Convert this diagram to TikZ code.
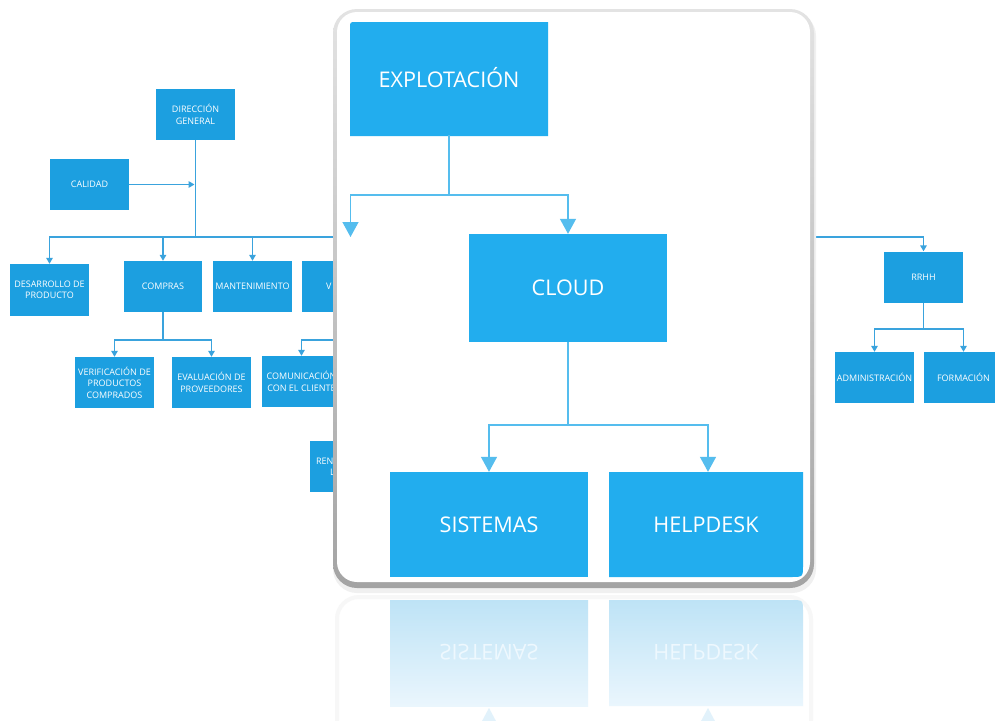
\documentclass[tikz,border=0pt]{standalone}
\usepackage{fontspec}
\usepackage{graphicx}
\setmainfont{Open Sans}
\usetikzlibrary{arrows.meta}

\definecolor{chartblue}{HTML}{1C9FE0}
\definecolor{lensblue}{HTML}{22ADEE}
\definecolor{wireblue}{HTML}{3AA3DD}
\definecolor{lenswireblue}{HTML}{55BDEE}
\definecolor{mirrortop}{HTML}{BEE3F6}
\definecolor{mirrorbot}{HTML}{EAF6FD}
\definecolor{mirrortext}{HTML}{EEF8FE}
\definecolor{mirrortip}{HTML}{E2F2FB}

\begin{document}
\begin{tikzpicture}[x=1pt,y=-1pt,
  chartbox/.style={fill=chartblue, text=white, font=\fontsize{9}{11.4}\selectfont,
    align=center, inner sep=0pt, minimum width=79pt, minimum height=51pt},
  lensbox/.style={text=white, font=\fontsize{21.6}{25}\selectfont, inner sep=0pt},
  wire/.style={draw=wireblue, line width=1.6pt},
  tip/.style={-{Triangle[length=6pt,width=6.5pt]}},
  lenswire/.style={draw=lenswireblue, line width=1.3pt},
  bigtip/.style={-{Triangle[length=15pt,width=16pt]}},
]
\useasboundingbox (0,0) rectangle (995,720);
\clip (0,0) rectangle (995,720);
\fill[white] (0,0) rectangle (995,720);

% ---------- organisation chart ----------
\node[chartbox] (dg)   at (195.5,114.5) {DIRECCIÓN\\GENERAL};
\node[chartbox] (cal)  at (89.5,184.5)  {CALIDAD};
\node[chartbox, minimum height=52pt] (des) at (49.5,290) {DESARROLLO DE\\PRODUCTO};
\node[chartbox, minimum width=78pt] (com) at (163,286.5) {COMPRAS};
\node[chartbox] (man)  at (252.5,286.5) {MANTENIMIENTO};
\node[chartbox, align=left, text width=31pt, inner xsep=24pt] (ven) at (341.5,286.5) {V};
\node[chartbox] (ver)  at (114.5,382.5) {VERIFICACIÓN DE\\PRODUCTOS\\COMPRADOS};
\node[chartbox] (eva)  at (211.5,382.5) {EVALUACIÓN DE\\PROVEEDORES};
\node[chartbox] (cli)  at (301.5,381.5) {COMUNICACIÓN\\CON EL CLIENTE};
\node[chartbox, align=left, text width=67pt, inner xsep=6pt] (ren) at (349.5,466.5) {REN\\\hspace*{14pt}L};
\node[chartbox] (rrhh) at (923.5,277)   {RRHH};
\node[chartbox] (adm)  at (874.5,377.5) {ADMINISTRACIÓN};
\node[chartbox] (for)  at (963.5,377.5) {FORMACIÓN};

\coordinate (dj) at (195.5,237);
\coordinate (cj) at (163,340);
\coordinate (vj) at (341.5,340);
\coordinate (rj) at (923.5,329);

\draw[wire] (dg.south) -- (dj);
\draw[wire,tip,shorten >=1pt] (cal.east) -- (dj |- cal.east);
\draw[wire,tip] (dj) -| (des.north);
\draw[wire,tip] (dj) -| (com.north);
\draw[wire,tip] (dj) -| (man.north);
\draw[wire,tip] (dj) -| (ven.north);
\draw[wire,tip] (dj) -| (rrhh.north);

\draw[wire] (com.south) -- (cj);
\draw[wire,tip] (cj) -| (ver.north);
\draw[wire,tip] (cj) -| (eva.north);

\draw[wire] (ven.south) -- (vj);
\draw[wire,tip] (vj) -| (cli.north);

\draw[wire] (rrhh.south) -- (rj);
\draw[wire,tip] (rj) -| (adm.north);
\draw[wire,tip] (rj) -| (for.north);

% ---------- magnifying frame ----------
\fill[gray!12, rounded corners=24pt] (333,12) rectangle (816,593);
\shade[top color=gray!22, bottom color=gray!72, rounded corners=24pt] (333,9) rectangle (814,588);
\fill[white, rounded corners=20pt] (337,12) rectangle (810,582);

% box shapes with the single rounded corner
\fill[lensblue] (350,136) -- (350,28) .. controls (350,22) .. (356,22) -- (548,22) -- (548,136) -- cycle;
\fill[lensblue] (609,472) -- (803,472) -- (803,565) .. controls (803,577) .. (791,577) -- (609,577) -- cycle;

\node[lensbox, minimum width=198pt, minimum height=114pt] (expl) at (449,78) {EXPLOTACIÓN};
\node[lensbox, fill=lensblue, minimum width=198pt, minimum height=108pt] (cloud) at (568,288) {CLOUD};
\node[lensbox, fill=lensblue, minimum width=198pt, minimum height=105pt] (sis) at (489,524.5) {SISTEMAS};
\node[lensbox, minimum width=194pt, minimum height=105pt] (help) at (706,524.5) {HELPDESK};

\coordinate (ej) at (449,195);
\coordinate (xj) at (568,425);
\coordinate (lensend) at (350.5,237);

\draw[lenswire] (expl.south) -- (ej);
\draw[lenswire,bigtip] (ej) -| (lensend);
\draw[lenswire,bigtip] (ej) -| (cloud.north);

\draw[lenswire] (cloud.south) -- (xj);
\draw[lenswire,bigtip] (xj) -| (sis.north);
\draw[lenswire,bigtip] (xj) -| (help.north -| 708,0);

% ---------- reflection ----------
\draw[gray!6, line width=4pt, rounded corners=22pt] (337,760) -- (337,597) -- (811,597) -- (811,760);
\shade[top color=mirrortop, bottom color=mirrorbot] (390,600) rectangle (588,706);
\shade[top color=mirrortop, bottom color=mirrorbot]
  (609,706) -- (609,600) -- (791,600) .. controls (803,600) .. (803,612) -- (803,706) -- cycle;
\node[lensbox, text=mirrortext] (sisR)  at (489,652) {\scalebox{1}[-1]{SISTEMAS}};
\node[lensbox, text=mirrortext] (helpR) at (706,652) {\scalebox{1}[-1]{HELPDESK}};
\fill[mirrortip] (489,708) -- (497,723) -- (481,723) -- cycle;
\fill[mirrortip] (708,708) -- (716,723) -- (700,723) -- cycle;
\end{tikzpicture}
\end{document}
